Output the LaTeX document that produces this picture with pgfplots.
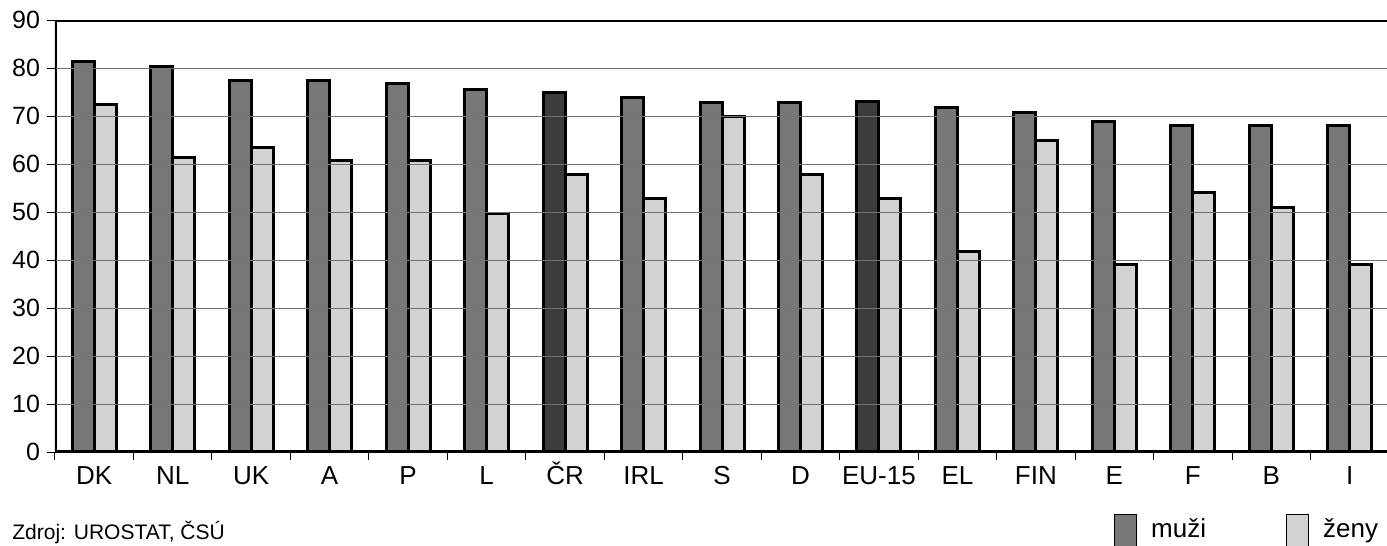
\documentclass[border=0pt]{standalone}
\usepackage{fontspec}
\setmainfont{Liberation Sans}
\usepackage{pgfplots}
\pgfplotsset{compat=1.18}

\definecolor{muzi}{HTML}{777777}
\definecolor{muzicr}{HTML}{3C3C3C}
\definecolor{zeny}{HTML}{D2D2D2}

\begin{document}
\begin{tikzpicture}
  \useasboundingbox (0,0) rectangle (693.5pt,273pt);
  \begin{axis}[
      at={(27.5pt,47pt)}, anchor=south west,
      scale only axis,
      width=667pt, height=216pt,
      xmin=-0.5, xmax=16.5,
      ymin=0, ymax=90,
      ybar=0pt, bar width=11pt,
      xtick={0,...,16},
      xticklabels={DK,NL,UK,A,P,L,ČR,IRL,S,D,EU-15,EL,FIN,E,F,B,I},
      minor xtick={-0.5,0.5,...,16.5},
      ytick={0,10,...,90},
      xtick pos=bottom, ytick pos=left,
      tick align=outside,
      major tick length=4pt, minor tick length=4pt,
      major x tick style={draw=none},
      every tick/.style={black, line width=0.5pt},
      ymajorgrids=true,
      major grid style={black!55, line width=0.5pt},
      axis on top,
      /pgf/number format/assume math mode=true,
      yticklabel style={font=\fontsize{12.5}{14}\selectfont},
      xticklabel style={font=\fontsize{13}{15}\selectfont, text height=11pt, text depth=3pt, yshift=2.5pt},
      legend style={at={(0.789,-0.134)}, anchor=north west, draw=none, fill=none,
        legend columns=2, font=\fontsize{13}{15}\selectfont,
        /tikz/every odd column/.append style={column sep=5pt},
        /tikz/every even column/.append style={column sep=38pt}},
      legend image code/.code={\draw[#1,draw=black,line width=0.6pt] (0pt,-14pt) rectangle (11pt,7.5pt);},
  ]
    % muži
    \addplot[fill=muzi, draw=black, line width=1.5pt, bar shift=-5.5pt] coordinates {
      (0,81.3) (1,80.4) (2,77.5) (3,77.5) (4,76.7) (5,75.5)
      (7,73.8) (8,72.8) (9,72.8) (11,71.8) (12,70.8) (13,68.8)
      (14,68.0) (15,68.0) (16,68.0)
    };
    \addlegendentry{muži}
    % ženy
    \addplot[fill=zeny, draw=black, line width=1.5pt, bar shift=5.5pt] coordinates {
      (0,72.3) (1,61.3) (2,63.5) (3,60.7) (4,60.8) (5,49.7)
      (6,57.8) (7,52.8) (8,69.8) (9,57.8) (10,52.8) (11,41.8)
      (12,64.8) (13,39.0) (14,54.0) (15,51.0) (16,39.0)
    };
    \addlegendentry{ženy}
    % ČR a EU-15 (muži, tmavší)
    \addplot[fill=muzicr, draw=black, line width=1.5pt, bar shift=-5.5pt, forget plot] coordinates {
      (6,74.8) (10,73.0)
    };
    % silný rámeček grafu
    \draw[line width=2pt] (rel axis cs:1,0) -- (rel axis cs:0,0) -- (rel axis cs:0,1) -- (rel axis cs:1,1);
  \end{axis}
  \node[anchor=base west, inner sep=0pt, font=\fontsize{10.5}{12}\selectfont] at (6pt,3pt) {Zdroj: UROSTAT, ČSÚ};
\end{tikzpicture}
\end{document}
